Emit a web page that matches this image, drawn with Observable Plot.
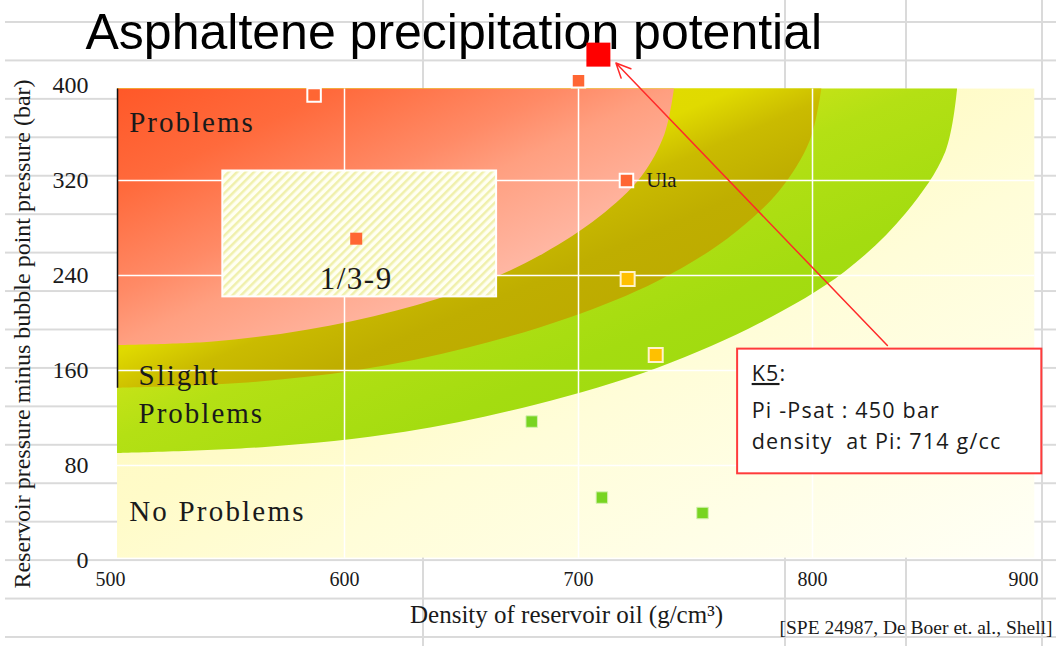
<!DOCTYPE html>
<html><head><meta charset="utf-8">
<script src="https://cdn.jsdelivr.net/npm/d3@7"></script>
<script src="https://cdn.jsdelivr.net/npm/@observablehq/plot@0.6"></script>
<style>
html,body{margin:0;padding:0;overflow:hidden;}
body{width:1056px;height:646px;background-color:#fff;
background-image:
 linear-gradient(#dadada,#dadada),
 linear-gradient(#dadada,#dadada),
 linear-gradient(#dadada,#dadada),
 linear-gradient(#dadada,#dadada),
 linear-gradient(to bottom,#dadada 0,#dadada 2px,transparent 2px);
background-size:2px 646px,2px 646px,2px 646px,2px 646px,1051px 38.44px;
background-position:422px 0,784px 0,905px 0,1041px 0,5px 21px;
background-repeat:no-repeat,no-repeat,no-repeat,no-repeat,repeat-y;}
#chart svg{display:block}
</style></head>
<body><div id="chart"></div>
<script>
// ---- texts ----
const title = "Asphaltene precipitation potential";
const xLabel = "Density of reservoir oil (g/cm³)";
const yLabel = "Reservoir pressure minus bubble point pressure (bar)";
const source = "[SPE 24987, De Boer et. al., Shell]";

// ---- axes ----
const xTicks = [500, 600, 700, 800, 900];
const yTicks = [0, 80, 160, 240, 320, 400];
const gridX = [600, 700, 800];
const gridY = [80, 160, 240, 320];

// ---- zone picture extent (data units) ----
const zoneX = [503, 895];
const zoneY = [2, 397];

// ---- zone boundaries ----
const redEdgeX = [503, 544, 584, 622, 656, 685, 709, 727, 737, 741];
const redEdgeY = [181, 184, 194, 210, 231, 258, 289, 323, 359, 397];
const slightEdgeX = [503, 555, 606, 653, 696, 734, 764, 786, 799, 804];
const slightEdgeY = [145, 149, 160, 179, 204, 235, 271, 311, 353, 397];
const greenEdgeX = [503, 565, 626, 682, 734, 778, 814, 840, 857, 862];
const greenEdgeY = [90, 95, 108, 131, 162, 200, 243, 292, 344, 397];

// ---- data points ----
const pointX = [587, 700, 708.5, 720.5, 605, 721, 733, 680, 710, 753];
const pointY = [392, 404, 426, 320, 271, 237, 173, 117, 53, 40];
const pointClass = ["problem", "problem", "k5", "problem", "field", "slight", "slight", "none", "none", "none"];

// ---- annotations ----
const zoneLabel = ["Problems", "Slight", "Problems", "No Problems"];
const zoneLabelX = [508, 512, 512, 508];
const zoneLabelY = [369, 156, 124, 41];
const fieldBoxX = [548, 665];
const fieldBoxY = [222, 328];
const fieldLabel = "1/3-9";
const fieldLabelXY = [605, 237];
const ulaLabel = "Ula";
const ulaLabelXY = [729, 320];
const k5BoxX = [768, 898];
const k5BoxY = [73, 178];
const k5Lines = ["K5:", "Pi -Psat : 450 bar", "density  at Pi: 714 g/cc"];
const k5LineX = 774;
const k5LineY = [157, 126, 100];
const arrowFrom = [832, 181];
const arrowTo = [716, 419];

// ---- tables ----
const edge = (xs, ys) => xs.map((x, i) => ({x, y: ys[i]}));
const points = pointX.map((x, i) => ({x, y: pointY[i], cls: pointClass[i]}));
const labels = zoneLabel.map((t, i) => ({t, x: zoneLabelX[i], y: zoneLabelY[i]}));
const k5 = k5Lines.map((t, i) => ({t, x: k5LineX, y: k5LineY[i]}));
const zoneTop = () => zoneY[1];
const serif = "Liberation Serif, Times New Roman, serif";
const sans = "Liberation Sans, Arial, sans-serif";
const side = s => s / Math.sqrt(Math.PI);
const pts = c => points.filter(d => d.cls === c);
const lastTick = xTicks[xTicks.length - 1];

const svg = Plot.plot({
  width: 1056, height: 646,
  marginLeft: 110, marginRight: 10, marginTop: 85, marginBottom: 86,
  x: {domain: [500, 900], axis: null},
  y: {domain: [0, 400], axis: null},
  style: {background: "transparent", fontFamily: serif, overflow: "visible"},
  marks: [
    Plot.text([title], {frameAnchor: "top-left", dx: -25, dy: -37, lineAnchor: "bottom", textAnchor: "start", fontSize: 50, fontFamily: sans, fill: "#000"}),
    Plot.rect([{x1: zoneX[0], x2: zoneX[1], y1: zoneY[0], y2: zoneY[1]}], {x1: "x1", x2: "x2", y1: "y1", y2: "y2", fill: "url(#gPale)"}),
    Plot.area(edge(greenEdgeX, greenEdgeY), {x1: "x", y1: "y", y2: zoneTop, curve: "catmull-rom", fill: "url(#gGreen)"}),
    Plot.area(edge(slightEdgeX, slightEdgeY), {x1: "x", y1: "y", y2: zoneTop, curve: "catmull-rom", fill: "url(#gOlive)"}),
    Plot.area(edge(redEdgeX, redEdgeY), {x1: "x", y1: "y", y2: zoneTop, curve: "catmull-rom", fill: "url(#gRed)"}),
    Plot.ruleX(gridX, {x: d => d, y1: () => zoneY[0], y2: zoneTop, stroke: "white", strokeWidth: 1.5}),
    Plot.ruleY(gridY, {y: d => d, x1: () => zoneX[0], x2: () => zoneX[1], stroke: "white", strokeWidth: 1.5}),
    Plot.ruleX([zoneX[0]], {x: d => d, y1: () => slightEdgeY[0], y2: zoneTop, stroke: "#111", strokeWidth: 1.5}),
    Plot.rect([{x1: fieldBoxX[0], x2: fieldBoxX[1], y1: fieldBoxY[0], y2: fieldBoxY[1]}], {x1: "x1", x2: "x2", y1: "y1", y2: "y2", fill: "url(#hatch)", stroke: "white", strokeWidth: 2}),
    Plot.text([fieldLabel], {x: () => fieldLabelXY[0], y: () => fieldLabelXY[1], fontSize: 31, fill: "#1a1a1a"}),
    Plot.text(labels, {x: "x", y: "y", text: "t", textAnchor: "start", fontSize: 29, fill: "#1a1a1a"}),
    Plot.rect([{x1: k5BoxX[0], x2: k5BoxX[1], y1: k5BoxY[0], y2: k5BoxY[1]}], {x1: "x1", x2: "x2", y1: "y1", y2: "y2", fill: "white", stroke: "#ff3b3b", strokeWidth: 2}),
    Plot.arrow([{x1: arrowFrom[0], y1: arrowFrom[1], x2: arrowTo[0], y2: arrowTo[1]}], {x1: "x1", y1: "y1", x2: "x2", y2: "y2", stroke: "#ff2a2a", strokeWidth: 1.5, headLength: 16, headAngle: 50}),
    Plot.text(k5, {x: "x", y: "y", text: "t", textAnchor: "start", fontSize: 21.5, fontFamily: "Open Sans, sans-serif", fill: "#1a1a1a"}),
    Plot.dot(pts("none"), {x: "x", y: "y", symbol: "square", r: side(11.5), fill: "#78d421", stroke: "#d4f0b0", strokeWidth: 1}),
    Plot.dot(pts("slight"), {x: "x", y: "y", symbol: "square", r: side(14), fill: "#ffc000", stroke: "#fff3cc", strokeWidth: 2}),
    Plot.dot(pts("problem"), {x: "x", y: "y", symbol: "square", r: side(13.5), fill: "#ff6633", stroke: "white", strokeWidth: 2}),
    Plot.dot(pts("field"), {x: "x", y: "y", symbol: "square", r: side(12), fill: "#ff6633"}),
    Plot.dot(pts("k5"), {x: "x", y: "y", symbol: "square", r: side(24), fill: "#ff0000"}),
    Plot.text([ulaLabel], {x: () => ulaLabelXY[0], y: () => ulaLabelXY[1], textAnchor: "start", fontSize: 21, fill: "#1a1a1a"}),
    Plot.text(yTicks, {y: d => d, frameAnchor: "left", dx: -22, textAnchor: "end", fontSize: 24, fill: "#1a1a1a"}),
    Plot.text(xTicks.filter(d => d !== lastTick), {x: d => d, frameAnchor: "bottom", dy: 25, textAnchor: "middle", fontSize: 20, fill: "#1a1a1a"}),
    Plot.text([lastTick], {x: d => d, frameAnchor: "bottom", dx: -8, dy: 25, textAnchor: "end", fontSize: 20, fill: "#1a1a1a"}),
    Plot.text([yLabel], {frameAnchor: "left", rotate: -90, dx: -88, dy: 11, textAnchor: "middle", fontSize: 24, fill: "#1a1a1a"}),
    Plot.text([xLabel], {frameAnchor: "bottom", dx: -12, dy: 62, textAnchor: "middle", fontSize: 25, fill: "#1a1a1a"}),
    Plot.text([source], {frameAnchor: "bottom-right", dx: 6, dy: 73, textAnchor: "end", fontSize: 19.5, fill: "#1a1a1a"})
  ]
});

// gradients and hatch pattern
const defs = d3.select(svg).insert("defs", ":first-child");
function lin(id, stops) {
  const g = defs.append("linearGradient").attr("id", id).attr("x1", 0).attr("y1", 0).attr("x2", 1).attr("y2", 1);
  for (const [o, c] of stops) g.append("stop").attr("offset", o).attr("stop-color", c);
}
lin("gRed", [[0, "#ff5828"], [0.2, "#ff6a3c"], [0.4, "#ff8a66"], [0.5, "#ff9f80"], [0.7, "#ffb6a2"], [1, "#ffc4b4"]]);
lin("gOlive", [[0, "#e8e400"], [0.44, "#e0da00"], [0.52, "#cabb00"], [0.62, "#bfae00"], [1, "#b8a400"]]);
lin("gGreen", [[0, "#d8e820"], [0.38, "#cce418"], [0.48, "#b4e014"], [0.65, "#a4dc10"], [1, "#96d810"]]);
lin("gPale", [[0, "#fff8b8"], [0.45, "#fffbc8"], [0.6, "#fffdd8"], [1, "#fffff6"]]);
const p = defs.append("pattern").attr("id", "hatch").attr("patternUnits", "userSpaceOnUse")
  .attr("width", 6).attr("height", 6).attr("patternTransform", "rotate(45)");
p.append("rect").attr("width", 6).attr("height", 6).attr("fill", "#fffff2");
p.append("rect").attr("width", 2.5).attr("height", 6).attr("fill", "#f0f0ac");

// letter spacing, underline "K5", keep double spaces
const spacing = new Map([["Problems", "2px"], ["Slight", "2px"], ["No Problems", "2.2px"], [fieldLabel, "1.5px"]]);
d3.select(svg).selectAll("text").each(function () {
  const s = this.textContent;
  if (spacing.has(s)) this.style.letterSpacing = spacing.get(s);
  if (k5Lines.includes(s)) { this.style.letterSpacing = "1.2px"; this.style.whiteSpace = "pre"; }
  if (s === "K5:") {
    const t = d3.select(this); t.text(null);
    t.append("tspan").attr("text-decoration", "underline").text("K5");
    t.append("tspan").text(":");
  }
});

document.getElementById("chart").append(svg);
</script>
</body></html>
